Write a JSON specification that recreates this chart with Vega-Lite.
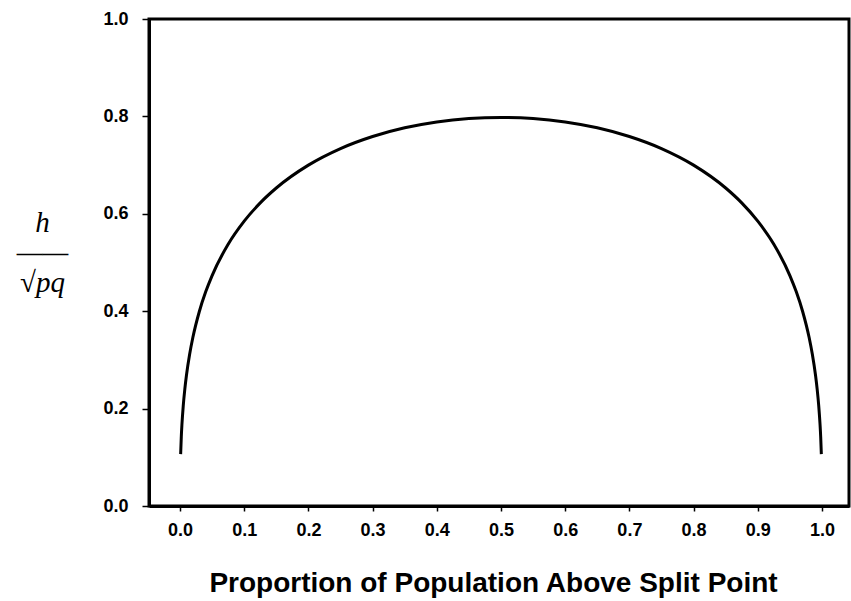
{
  "$schema": "https://vega.github.io/schema/vega-lite/v6.json",
  "autosize": "none",
  "width": 700,
  "height": 487,
  "padding": {"left": 149, "top": 19, "right": 2, "bottom": 95},
  "background": "white",
  "config": {
    "view": {"stroke": "#000", "strokeWidth": 3},
    "axis": {
      "grid": false,
      "domainColor": "#000",
      "domainWidth": 3,
      "tickColor": "#000",
      "tickWidth": 1.5,
      "labelColor": "#000",
      "titleColor": "#000"
    }
  },
  "data": {
    "values": [
      {"p": 0.001, "v": 0.1065},
      {"p": 0.002, "v": 0.1419},
      {"p": 0.003, "v": 0.1673},
      {"p": 0.005, "v": 0.2050},
      {"p": 0.0075, "v": 0.2400},
      {"p": 0.01, "v": 0.2679},
      {"p": 0.015, "v": 0.3115},
      {"p": 0.02, "v": 0.3459},
      {"p": 0.03, "v": 0.3989},
      {"p": 0.04, "v": 0.4397},
      {"p": 0.05, "v": 0.4732},
      {"p": 0.075, "v": 0.5375},
      {"p": 0.1, "v": 0.5850},
      {"p": 0.125, "v": 0.6225},
      {"p": 0.15, "v": 0.6530},
      {"p": 0.2, "v": 0.6999},
      {"p": 0.25, "v": 0.7339},
      {"p": 0.3, "v": 0.7587},
      {"p": 0.35, "v": 0.7766},
      {"p": 0.4, "v": 0.7886},
      {"p": 0.45, "v": 0.7956},
      {"p": 0.5, "v": 0.7979},
      {"p": 0.55, "v": 0.7956},
      {"p": 0.6, "v": 0.7886},
      {"p": 0.65, "v": 0.7766},
      {"p": 0.7, "v": 0.7587},
      {"p": 0.75, "v": 0.7339},
      {"p": 0.8, "v": 0.6999},
      {"p": 0.85, "v": 0.6530},
      {"p": 0.875, "v": 0.6225},
      {"p": 0.9, "v": 0.5850},
      {"p": 0.925, "v": 0.5375},
      {"p": 0.95, "v": 0.4732},
      {"p": 0.96, "v": 0.4397},
      {"p": 0.97, "v": 0.3989},
      {"p": 0.98, "v": 0.3459},
      {"p": 0.985, "v": 0.3115},
      {"p": 0.99, "v": 0.2679},
      {"p": 0.9925, "v": 0.2400},
      {"p": 0.995, "v": 0.2050},
      {"p": 0.997, "v": 0.1673},
      {"p": 0.998, "v": 0.1419},
      {"p": 0.999, "v": 0.1065}
    ]
  },
  "mark": {"type": "line", "color": "#000", "strokeWidth": 3, "interpolate": "monotone"},
  "encoding": {
    "x": {
      "field": "p", "type": "quantitative",
      "scale": {"domain": [-0.0483, 1.0421], "nice": false, "zero": false},
      "axis": {
        "values": [0, 0.1, 0.2, 0.3, 0.4, 0.5, 0.6, 0.7, 0.8, 0.9, 1.0],
        "format": ".1f",
        "tickSize": 5,
        "labelPadding": 10,
        "labelFont": "Liberation Sans",
        "labelFontWeight": "bold",
        "labelFontSize": 18,
        "title": "Proportion of Population Above Split Point",
        "titleFont": "Liberation Sans",
        "titleFontWeight": "bold",
        "titleFontSize": 28,
        "titlePadding": 30,
        "titleX": 344
      }
    },
    "y": {
      "field": "v", "type": "quantitative",
      "scale": {"domain": [0, 1], "nice": false},
      "axis": {
        "values": [0, 0.2, 0.4, 0.6, 0.8, 1.0],
        "format": ".1f",
        "tickSize": 7,
        "labelPadding": 14,
        "labelFont": "Liberation Sans",
        "labelFontWeight": "bold",
        "labelFontSize": 18,
        "title": ["h", "——", "√pq"],
        "titleFont": "Liberation Serif",
        "titleFontStyle": "italic",
        "titleFontWeight": "normal",
        "titleFontSize": 29,
        "titleLineHeight": 30,
        "titleAngle": 0,
        "titleAlign": "center",
        "titleBaseline": "middle",
        "titleX": -107,
        "titleY": 203
      }
    }
  }
}
